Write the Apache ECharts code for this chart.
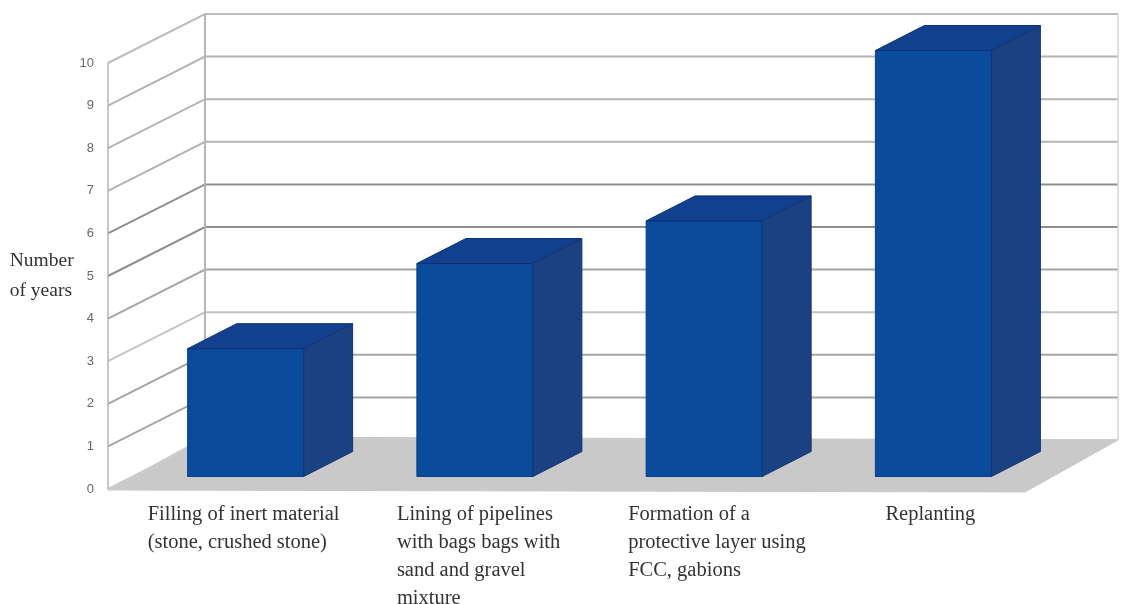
<!DOCTYPE html>
<html>
<head>
<meta charset="utf-8">
<style>html,body{margin:0;padding:0;background:#fff}#c{width:1122px;height:604px}</style>
<script src="https://cdn.jsdelivr.net/npm/echarts@6/dist/echarts.min.js"></script>
</head>
<body>
<div id="c"></div>
<script>
var categories = [
  'Filling of inert material\n(stone, crushed stone)',
  'Lining of pipelines\nwith bags bags with\nsand and gravel\nmixture',
  'Formation of a\nprotective layer using\nFCC, gabions',
  'Replanting'
];
var years = [3, 5, 6, 10];
var yTicks = [0, 1, 2, 3, 4, 5, 6, 7, 8, 9, 10];
var gridLineColors = ['#cccccc', '#a6a6a6', '#a6a6a6', '#c4c4c4', '#a6a6a6', '#8f8f8f', '#8f8f8f', '#b4b4b4', '#b4b4b4', '#b4b4b4', '#bdbdbd'];
var labelShift = [-75, -55, -53, -25];

var WALL_DX = 97, WALL_DY = -49;
var BAR_DX = 23, BAR_DY = -12.5, BAR_W = 116, SIDE_DX = 49, SIDE_DY = -25;

function poly(points, fill, stroke) {
  return { type: 'polygon', shape: { points: points }, style: { fill: fill, stroke: stroke || fill, lineWidth: 1 } };
}

var chart = echarts.init(document.getElementById('c'), null, { renderer: 'canvas' });
chart.setOption({
  animation: false,
  backgroundColor: '#ffffff',
  grid: { left: 108, right: 97, top: 63, bottom: 115, containLabel: false, outerBoundsMode: 'none' },
  xAxis: {
    type: 'category',
    data: categories.map(function (c, i) {
      return { value: c, textStyle: { align: 'left', verticalAlign: 'top', padding: [0, 0, 0, labelShift[i]] } };
    }),
    axisLine: { show: false },
    axisTick: { show: false },
    splitLine: { show: false },
    axisLabel: {
      interval: 0, hideOverlap: false, margin: 12, align: 'left', verticalAlign: 'top',
      fontFamily: 'Liberation Serif', fontSize: 20.5, lineHeight: 28, color: '#333333'
    }
  },
  yAxis: {
    type: 'value', min: 0, max: 10, interval: 1,
    name: 'Number\nof years',
    nameLocation: 'middle', nameRotate: 0, nameGap: 92,
    nameTextStyle: { fontFamily: 'Liberation Serif', fontSize: 19.5, lineHeight: 30, color: '#333333', align: 'left', verticalAlign: 'middle', padding: [3, 0, 0, 0] },
    axisLine: { show: false },
    axisTick: { show: false },
    splitLine: { show: false },
    axisLabel: { margin: 14, fontFamily: 'Liberation Sans', fontSize: 13, color: '#666666' }
  },
  series: [
    {
      type: 'custom', name: 'floor', silent: true, z: 1,
      data: [0],
      renderItem: function (params, api) {
        var cs = params.coordSys;
        var y = api.coord([0, 0])[1];
        var l = cs.x, r = cs.x + cs.width;
        return poly([[l, y + 1], [r, y + 3], [r + WALL_DX - 4, y + WALL_DY], [l + WALL_DX, y + WALL_DY - 3]], '#c9c9c9');
      }
    },
    {
      type: 'custom', name: 'walls', silent: true, z: 2,
      data: yTicks,
      renderItem: function (params, api) {
        var cs = params.coordSys;
        var v = api.value(0);
        var y = api.coord([0, v])[1];
        var l = cs.x, r = cs.x + cs.width;
        var color = gridLineColors[params.dataIndex];
        return {
          type: 'polyline',
          shape: { points: [[l, y], [l + WALL_DX, y + WALL_DY], [r + WALL_DX - 4, y + WALL_DY]] },
          style: { fill: null, stroke: color, lineWidth: 2 }
        };
      }
    },
    {
      type: 'custom', name: 'wallEdges', silent: true, z: 2,
      data: [0],
      renderItem: function (params, api) {
        var cs = params.coordSys;
        var y0 = api.coord([0, 0])[1], y10 = api.coord([0, 10])[1];
        var l = cs.x, r = cs.x + cs.width;
        return {
          type: 'group',
          children: [
            { type: 'line', shape: { x1: l, y1: y0, x2: l, y2: y10 }, style: { stroke: '#b4b4b4', lineWidth: 1.5 } },
            { type: 'line', shape: { x1: l + WALL_DX, y1: y0 + WALL_DY, x2: l + WALL_DX, y2: y10 + WALL_DY }, style: { stroke: '#b4b4b4', lineWidth: 2 } },
            { type: 'line', shape: { x1: r + WALL_DX - 4, y1: y0 + WALL_DY, x2: r + WALL_DX - 4, y2: y10 + WALL_DY }, style: { stroke: '#d4d4d4', lineWidth: 1.5 } }
          ]
        };
      }
    },
    {
      type: 'custom', name: 'Number of years', z: 5,
      data: years.map(function (v, i) { return [i, v]; }),
      encode: { x: 0, y: 1 },
      renderItem: function (params, api) {
        var top = api.coord([api.value(0), api.value(1)]);
        var base = api.coord([api.value(0), 0]);
        var xl = top[0] + BAR_DX - BAR_W / 2, xr = xl + BAR_W;
        var yt = top[1] + BAR_DY, yb = base[1] + BAR_DY;
        return {
          type: 'group',
          children: [
            poly([[xl, yt], [xr, yt], [xr, yb], [xl, yb]], '#0a4b9b', '#0a3f8c'),
            poly([[xl, yt], [xl + SIDE_DX, yt + SIDE_DY], [xr + SIDE_DX, yt + SIDE_DY], [xr, yt]], '#123f8e', '#0d2f74'),
            poly([[xr, yt], [xr + SIDE_DX, yt + SIDE_DY], [xr + SIDE_DX, yb + SIDE_DY], [xr, yb]], '#1a4182', '#123474')
          ]
        };
      }
    }
  ]
});
</script>
</body>
</html>
